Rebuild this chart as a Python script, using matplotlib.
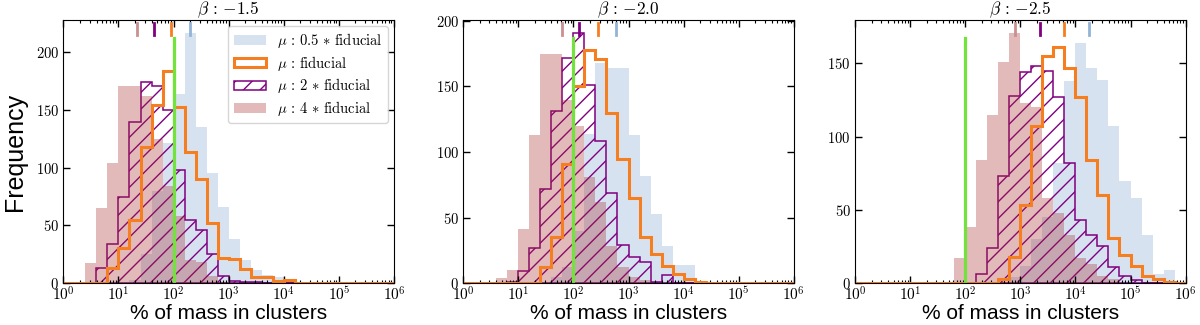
import numpy as np
import matplotlib
matplotlib.use('Agg')
import matplotlib.pyplot as plt
from matplotlib.ticker import FuncFormatter, LogLocator, NullLocator, MultipleLocator

plt.rcParams['mathtext.fontset'] = 'cm'
plt.rcParams['hatch.linewidth'] = 1.0
plt.rcParams['hatch.color'] = 'purple'

# 30 log bins, 0.2 dex wide, from 10^0 to 10^6
log_edges = np.linspace(0, 6, 31)

betas = ['-1.5', '-2.0', '-2.5']
labels = [r'$\mu\,:\,0.5\,\ast\,\mathrm{fiducial}$', r'$\mu\,:\,\mathrm{fiducial}$',
          r'$\mu\,:\,2\,\ast\,\mathrm{fiducial}$', r'$\mu\,:\,4\,\ast\,\mathrm{fiducial}$']

# counts per bin, beta = -1.5
half_b15 = [0, 0, 0, 0, 0, 0, 3, 25, 80, 121, 164, 217, 135, 95, 66, 38, 20, 11, 7, 5, 2, 1, 0, 0, 0, 0, 0, 0, 0, 0]
fid_b15 = [0, 0, 0, 0, 13, 30, 55, 118, 154, 184, 153, 114, 90, 52, 22, 21, 12, 5, 5, 2, 3, 0, 0, 0, 0, 0, 0, 0, 0, 0]
two_b15 = [0, 0, 0, 13, 34, 75, 140, 174, 171, 150, 98, 55, 46, 25, 6, 2, 1, 1, 0, 0, 0, 0, 0, 0, 0, 0, 0, 0, 0, 0]
four_b15 = [0, 0, 17, 65, 104, 171, 171, 162, 125, 84, 58, 20, 18, 6, 1, 0, 0, 0, 0, 0, 0, 0, 0, 0, 0, 0, 0, 0, 0, 0]

# beta = -2.0
half_b20 = [0, 0, 0, 0, 0, 0, 0, 0, 5, 12, 40, 114, 168, 164, 164, 113, 82, 53, 28, 14, 14, 1, 0, 0, 0, 0, 0, 0, 0, 0]
fid_b20 = [0, 0, 0, 0, 0, 0, 0, 12, 35, 91, 150, 178, 171, 130, 95, 65, 35, 22, 13, 7, 3, 1, 0, 0, 0, 0, 0, 0, 0, 0]
two_b20 = [0, 0, 0, 0, 1, 9, 27, 72, 131, 172, 191, 151, 108, 69, 29, 20, 16, 1, 6, 0, 0, 0, 0, 0, 0, 0, 0, 0, 0, 0]
four_b20 = [0, 0, 0, 4, 10, 41, 113, 175, 175, 140, 120, 81, 62, 28, 12, 5, 2, 0, 0, 0, 0, 0, 0, 0, 0, 0, 0, 0, 0, 0]

# beta = -2.5
half_b25 = [0, 0, 0, 0, 0, 0, 0, 0, 0, 0, 0, 0, 0, 0, 4, 12, 30, 45, 82, 138, 164, 147, 139, 107, 70, 58, 33, 6, 9, 0]
fid_b25 = [0, 0, 0, 0, 0, 0, 0, 0, 0, 0, 0, 0, 0, 3, 18, 53, 107, 155, 161, 147, 127, 84, 60, 31, 19, 12, 5, 3, 1, 0]
two_b25 = [0, 0, 0, 0, 0, 0, 0, 0, 0, 0, 0, 6, 24, 73, 128, 144, 148, 145, 127, 82, 43, 33, 25, 11, 5, 2, 0, 0, 0, 0]
four_b25 = [0, 0, 0, 0, 0, 0, 0, 0, 0, 17, 38, 84, 115, 151, 171, 123, 120, 58, 48, 33, 17, 13, 5, 3, 0, 0, 0, 0, 0, 0]

# medians (log10 of %) marked at the top: 0.5x, fiducial, 2x, 4x
median_b15 = [2.29, 1.96, 1.65, 1.34]
median_b20 = [2.78, 2.45, 2.10, 1.79]
median_b25 = [4.25, 3.80, 3.36, 2.91]

reference_value = 100

panels = [(half_b15, fid_b15, two_b15, four_b15, median_b15),
          (half_b20, fid_b20, two_b20, four_b20, median_b20),
          (half_b25, fid_b25, two_b25, four_b25, median_b25)]

edges = 10 ** log_edges
centers = 10 ** ((log_edges[:-1] + log_edges[1:]) / 2)

c_blue = '#4a7fbf'
c_orange = '#f57f20'
c_purple = 'purple'
c_brown = 'brown'
c_green = '#72e23c'
tick_colors = ['#93b3d8', c_orange, c_purple, '#c99090']

fig = plt.figure(figsize=(12, 3.25), dpi=100)
lefts = [0.0528, 0.386, 0.7125]

for i, (half, fid, two, four, med) in enumerate(panels):
    ax = fig.add_axes([lefts[i], 0.129, 0.2755, 0.809])
    ax.hist(centers, bins=edges, weights=half, histtype='stepfilled',
            color=c_blue, alpha=0.22, lw=0, label=labels[0])
    ax.hist(centers, bins=edges, weights=fid, histtype='step',
            color=c_orange, lw=2.2, label=labels[1])
    ax.hist(centers, bins=edges, weights=two, histtype='stepfilled',
            fill=False, edgecolor=c_purple, hatch='//', lw=1.1, label=labels[2])
    ax.hist(centers, bins=edges, weights=four, histtype='stepfilled',
            color=c_brown, alpha=0.32, lw=0, label=labels[3])

    ax.axvline(reference_value, ymin=0, ymax=0.934, color=c_green, lw=2.3)
    for m, col in zip(med, tick_colors):
        ax.axvline(10 ** m, ymin=0.945, ymax=0.99, color=col, lw=2.0)

    ax.set_xscale('log')
    ax.set_xlim(1, 1e6)
    ax.xaxis.set_major_locator(LogLocator(base=10, numticks=10))
    ax.xaxis.set_minor_locator(LogLocator(base=10, subs=np.arange(2, 10), numticks=20))
    ax.xaxis.set_major_formatter(FuncFormatter(lambda v, p: r'$10^{%d}$' % round(np.log10(v))))
    ax.yaxis.set_major_locator(MultipleLocator(50))
    ax.yaxis.set_major_formatter(FuncFormatter(lambda v, p: r'$%d$' % v))
    ax.yaxis.set_minor_locator(NullLocator())
    ax.tick_params(which='both', direction='in', top=True, right=True)
    ax.tick_params(which='major', length=5, width=1)
    ax.tick_params(which='minor', length=2.5, width=0.8)
    ax.tick_params(axis='x', labelsize=11, pad=2)
    ax.tick_params(axis='y', labelsize=10.5, pad=3)

    ax.set_title(r'$\beta\,:\,{-%s}$' % betas[i].lstrip('-'), fontsize=12.5, pad=2)
    ax.set_xlabel('% of mass in clusters', fontsize=15, family='Liberation Sans', labelpad=0)
    if i == 0:
        ax.set_ylabel('Frequency', fontsize=18, family='Liberation Sans', labelpad=6)
        ax.legend(loc='upper right', fontsize=10.5, borderaxespad=0.4,
                  handlelength=2.2, handleheight=0.6, labelspacing=0.25,
                  borderpad=0.35)

fig.savefig('out.png', dpi=100)
